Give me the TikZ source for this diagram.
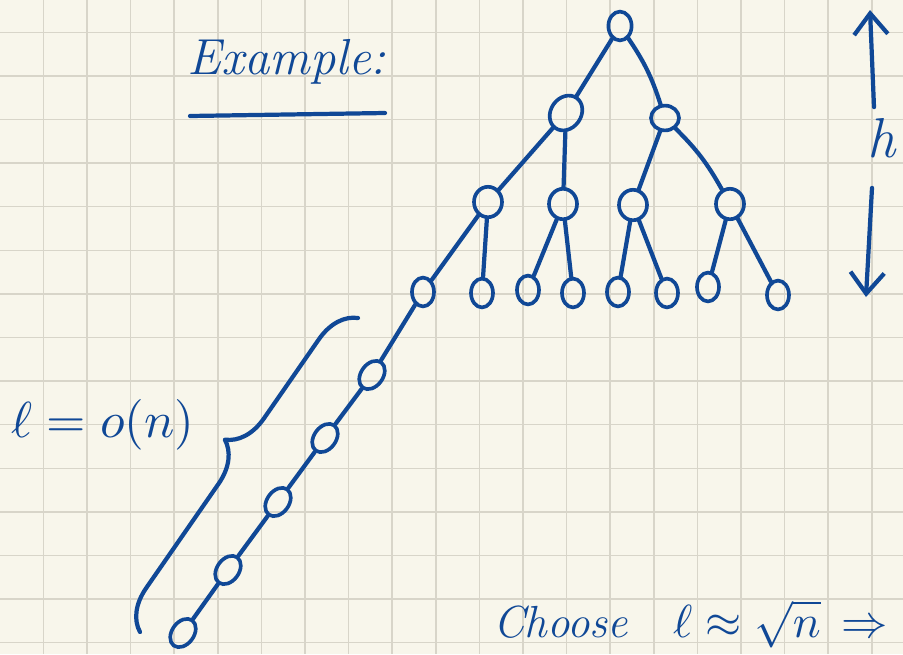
\documentclass[tikz,border=0pt]{standalone}
\usepackage{amsmath}
\usepackage{graphicx}
\usetikzlibrary{arrows.meta,calc,decorations.pathreplacing,positioning,shapes.geometric}
\definecolor{ink}{RGB}{16,72,150}
\definecolor{paper}{RGB}{248,246,235}
\definecolor{rulec}{RGB}{216,213,201}

\begin{document}
\begin{tikzpicture}[x=0.025cm,y=-0.025cm,
    >={Straight Barb[length=15pt,width=24pt]},
    inkline/.style={ink,line width=3pt,line cap=round,line join=round},
    vtx/.style={draw=ink,line width=2.6pt,ellipse,inner sep=0pt,
      minimum width=0.55cm,minimum height=0.72cm},
    mid/.style={minimum width=0.7cm,minimum height=0.76cm},
    lbl/.style={ink,inner sep=2pt}]
  \clip (0,0) rectangle (903,654);
  \fill[paper] (0,0) rectangle (903,654);
  % squared paper
  \foreach \k in {0,...,19}{\draw[rulec,line width=1.1pt] ({43.4+43.6*\k},0)--++(0,654);}
  \foreach \k in {0,...,14}{\draw[rulec,line width=1.1pt] (0,{32.3+43.6*\k})--++(903,0);}

  % tree of height h
  \node[vtx,minimum width=0.58cm,minimum height=0.72cm] (r) at (620,26) {};
  \node[vtx,minimum width=0.76cm,minimum height=0.92cm,rotate=-35] (a) at (566,113) {};
  \node[vtx,minimum width=0.7cm,minimum height=0.62cm] (b) at (665,118) {};
  \node[vtx,mid] (aa) at (488,202) {};
  \node[vtx,mid] (ab) at (563,204) {};
  \node[vtx,mid] (ba) at (633,205) {};
  \node[vtx,mid] (bb) at (730,204) {};
  \foreach \i/\x/\y in {1/423/292,2/482/293,3/528/290,4/573/293,
                        5/618/292,6/667/293,7/708/287,8/778/295}
    \node[vtx] (l\i) at (\x,\y) {};
  % long path hanging from the first leaf
  \foreach \i/\x/\y in {1/372/375,2/325/438,3/278/502,4/228/570,5/183/633}
    \node[vtx,minimum width=0.55cm,minimum height=0.78cm,rotate=-36] (c\i) at (\x,\y) {};

  \draw[inkline] (r) -- (a);
  \draw[inkline] (r) to[bend left=8] (b);
  \draw[inkline] (b) to[bend left=8] (bb);
  \foreach \p/\q in {a/aa,a/ab,b/ba,aa/l1,aa/l2,ab/l3,ab/l4,ba/l5,ba/l6,
                     bb/l7,bb/l8,l1/c1,c1/c2,c2/c3,c3/c4,c4/c5}
    \draw[inkline] (\p) -- (\q);

  % labels
  \node[lbl,font=\fontsize{36}{40}\selectfont\itshape] (ex) at (287,62) {Example:};
  \draw[inkline] (190,116) -- (385,113);

  \node[lbl,font=\fontsize{40}{44}\selectfont\itshape] (h) at (882,138) {h};
  \coordinate (htop) at (870,10);
  \coordinate (hbot) at (866,297);
  \draw[inkline,->] ([shift={(-8,-8)}]h.north) -- (htop);
  \draw[inkline,->] ([shift={(-10,27)}]h.south) -- (hbot);

  \coordinate (bl) at (140,632);
  \coordinate (tl) at (358,318);
  \draw[inkline,decorate,decoration={brace,amplitude=1cm,aspect=0.54}] (bl) -- (tl);
  \node[lbl] (lo) at (103,425) {\scalebox{3.6}{$\ell = o(n)$}};

  \node[lbl,anchor=base west] (ch) at (490,637)
    {\fontsize{32}{36}\selectfont\itshape Choose\quad
     \scalebox{3.3}{\fontsize{10}{12}\selectfont$\ell\approx\sqrt{n}\,\Rightarrow$}};
\end{tikzpicture}
\end{document}
